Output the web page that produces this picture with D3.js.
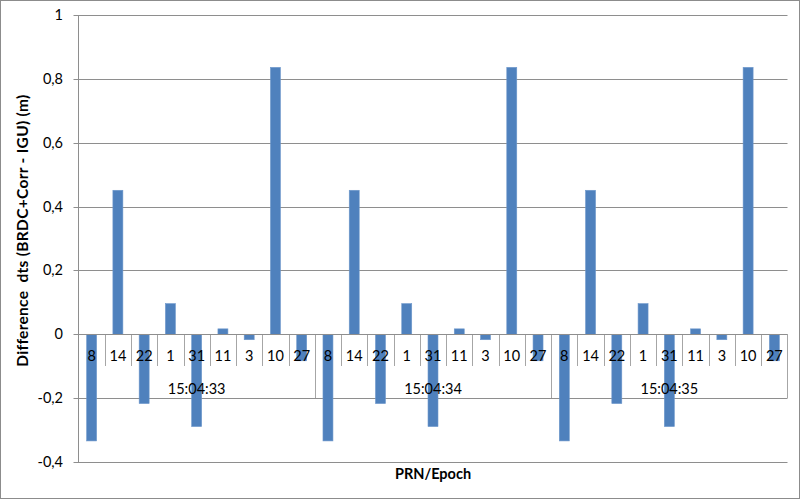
<!DOCTYPE html>
<html>
<head>
<meta charset="utf-8">
<script src="https://cdn.jsdelivr.net/npm/d3@7"></script>
<style>
  body { margin: 0; background: #fff; }
  text { font-family: Lato, "Open Sans", sans-serif; fill: #000; }
</style>
</head>
<body>
<div id="chart"></div>
<script>
// PRN order within each epoch
const prns = ["8", "14", "22", "1", "31", "11", "3", "10", "27"]
const epochs = ["15:04:33", "15:04:34", "15:04:35"]
// difference dts (m) per epoch
const epoch33 = [-0.334, 0.451, -0.217, 0.096, -0.289, 0.017, -0.017, 0.836, -0.083]
const epoch34 = [-0.334, 0.451, -0.217, 0.096, -0.289, 0.017, -0.017, 0.836, -0.083]
const epoch35 = [-0.334, 0.451, -0.217, 0.096, -0.289, 0.017, -0.017, 0.836, -0.083]
const yTicks = [-0.4, -0.2, 0, 0.2, 0.4, 0.6, 0.8, 1]

const W = 800, H = 499
const PLOT = {LEFT: 78.5, RIGHT: 787.5, TOP: 15, BOTTOM: 462}

const rows = []
;[epoch33, epoch34, epoch35].forEach((vals, g) => {
  vals.forEach((v, i) => rows.push({key: g + "_" + i, prn: prns[i], epoch: epochs[g], g: g, i: i, value: v}))
})

const svg = d3.select("#chart").append("svg")
    .attr("width", W)
    .attr("height", H)

// outer border
svg.append("rect")
    .attr("x", 0.5).attr("y", 0.5)
    .attr("width", W - 1).attr("height", H - 1)
    .attr("fill", "#fff")
    .attr("stroke", "#8c8c8c")

const x = d3.scaleBand()
    .domain(rows.map(d => d.key))
    .range([PLOT.LEFT, PLOT.RIGHT])
    .paddingInner(0.62)
    .paddingOuter(0.31)
const step = x.step()

const y = d3.scaleLinear().domain([-0.4, 1]).range([PLOT.BOTTOM, PLOT.TOP])

// gridlines
svg.append("g").selectAll("line")
    .data(yTicks)
    .enter().append("line")
    .attr("x1", PLOT.LEFT - 5).attr("x2", PLOT.RIGHT)
    .attr("y1", d => Math.round(y(d)) + 0.5).attr("y2", d => Math.round(y(d)) + 0.5)
    .attr("stroke", "#8e8e8e")

// y axis line
svg.append("line")
    .attr("x1", PLOT.LEFT).attr("x2", PLOT.LEFT)
    .attr("y1", y(1)).attr("y2", y(-0.4) + 0.5)
    .attr("stroke", "#8e8e8e")

// y tick labels (comma decimal, plain hyphen)
const fmt = d => d === 0 ? "0" : (d === 1 ? "1" : d.toFixed(1).replace(".", ","))
svg.append("g").selectAll("text")
    .data(yTicks)
    .enter().append("text")
    .attr("x", 63)
    .attr("y", d => y(d) + 5)
    .attr("text-anchor", "end")
    .style("font-size", "14.5px")
    .text(fmt)

// bars
svg.append("g").selectAll("rect")
    .data(rows)
    .enter().append("rect")
    .attr("x", d => x(d.key))
    .attr("width", x.bandwidth())
    .attr("y", d => y(Math.max(0, d.value)))
    .attr("height", d => Math.abs(y(d.value) - y(0)))
    .attr("fill", "#4f81bd")
    .attr("stroke", "#6d97cb")
    .attr("stroke-width", 0.6)

const zeroY = Math.round(y(0)) + 0.5
const leftEdge = d => x(d.key) - x.paddingOuter() * step

// category tick lines
svg.append("g").selectAll("line")
    .data(rows.filter(d => d.i > 0))
    .enter().append("line")
    .attr("x1", d => Math.round(leftEdge(d)) + 0.5)
    .attr("x2", d => Math.round(leftEdge(d)) + 0.5)
    .attr("y1", zeroY).attr("y2", 366)
    .attr("stroke", "#a6a6a6")

// epoch separator lines
const groupEdges = [1, 2].map(g => leftEdge(rows[g * prns.length])).concat([PLOT.RIGHT - 0.5])
svg.append("g").selectAll("line")
    .data(groupEdges)
    .enter().append("line")
    .attr("x1", d => Math.round(d) + 0.5).attr("x2", d => Math.round(d) + 0.5)
    .attr("y1", zeroY).attr("y2", 398)
    .attr("stroke", "#a6a6a6")

// zero baseline
svg.append("line")
    .attr("x1", PLOT.LEFT).attr("x2", PLOT.RIGHT)
    .attr("y1", zeroY).attr("y2", zeroY)
    .attr("stroke", "#8e8e8e")

// PRN labels
svg.append("g").selectAll("text")
    .data(rows)
    .enter().append("text")
    .attr("x", d => x(d.key) + x.bandwidth() / 2)
    .attr("y", 361)
    .attr("text-anchor", "middle")
    .style("font-size", "14.5px")
    .text(d => d.prn)

// epoch labels
svg.append("g").selectAll("text")
    .data(epochs)
    .enter().append("text")
    .attr("x", (d, g) => {
      const a = rows[g * prns.length], b = rows[g * prns.length + prns.length - 1]
      return (x(a.key) + x(b.key) + x.bandwidth()) / 2
    })
    .attr("y", 394)
    .attr("text-anchor", "middle")
    .style("font-size", "14.5px")
    .text(d => d)

// axis titles
svg.append("text")
    .attr("x", (PLOT.LEFT + PLOT.RIGHT) / 2)
    .attr("y", 479)
    .attr("text-anchor", "middle")
    .style("font-size", "14.5px")
    .style("font-weight", "bold")
    .text("PRN/Epoch")

svg.append("text")
    .attr("transform", `translate(28, ${(PLOT.TOP + PLOT.BOTTOM) / 2 - 8}) rotate(-90)`)
    .attr("text-anchor", "middle")
    .style("font-size", "15.5px")
    .style("font-weight", "bold")
    .style("letter-spacing", "0.3px")
    .style("white-space", "pre")
    .text("Difference  dts (BRDC+Corr - IGU) (m)")
</script>
</body>
</html>
